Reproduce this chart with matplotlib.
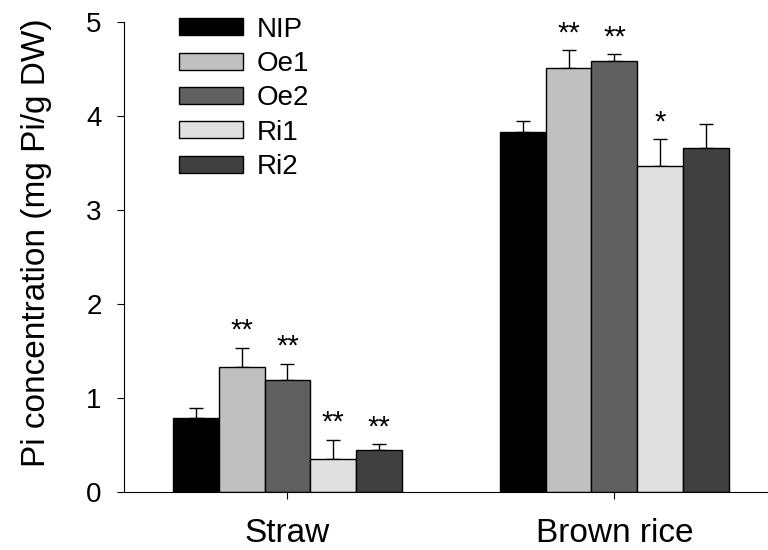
import matplotlib.pyplot as plt
import numpy as np

plt.rcParams['font.family'] = ['Liberation Sans', 'DejaVu Sans']

groups = ['Straw', 'Brown rice']
lines = ['NIP', 'Oe1', 'Oe2', 'Ri1', 'Ri2']
colors = ['#000000', '#c0c0c0', '#606060', '#e0e0e0', '#404040']

# mean values per line, [straw, brown rice]
means = {
    'NIP': [0.78, 3.83],
    'Oe1': [1.33, 4.51],
    'Oe2': [1.19, 4.58],
    'Ri1': [0.35, 3.47],
    'Ri2': [0.44, 3.66],
}
errs = {
    'NIP': [0.11, 0.12],
    'Oe1': [0.20, 0.19],
    'Oe2': [0.17, 0.08],
    'Ri1': [0.20, 0.28],
    'Ri2': [0.065, 0.25],
}
stars = {
    'NIP': ['', ''],
    'Oe1': ['**', '**'],
    'Oe2': ['**', '**'],
    'Ri1': ['**', '*'],
    'Ri2': ['**', ''],
}

W, H = 768, 550
fig = plt.figure(figsize=(W / 100, H / 100), dpi=100)
ax = fig.add_axes([124 / W, (H - 491.5) / H, (768 - 124) / W, (491.5 - 22) / H])

x = np.arange(len(groups))
width = 0.14
for i, name in enumerate(lines):
    pos = x + (i - 2) * width
    ax.bar(pos, means[name], width, color=colors[i], edgecolor='black',
           linewidth=1, label=name, zorder=2)
    # upper half error bars only
    ax.errorbar(pos, means[name], yerr=[np.zeros(len(groups)), errs[name]],
                fmt='none', ecolor='black', elinewidth=1, capsize=5,
                capthick=1, zorder=1)
    for j, s in enumerate(stars[name]):
        if s:
            ax.text(pos[j], means[name][j] + errs[name][j] + 0.03, s,
                    ha='center', va='bottom', fontsize=21)

ax.set_xlim(-0.5, 1.47)
ax.set_ylim(0, 5)
ax.set_xticks(x)
ax.set_xticklabels(groups, fontsize=24)
ax.set_yticks(range(6))
ax.tick_params(axis='y', labelsize=20, direction='out', length=5, pad=11)
ax.tick_params(axis='x', direction='out', length=5, pad=14)
ax.set_ylabel('Pi concentration (mg Pi/g DW)', fontsize=24)
ax.yaxis.set_label_coords(-0.112, 0.53)
for side in ['top', 'right']:
    ax.spines[side].set_visible(False)

ax.legend(loc='upper left', bbox_to_anchor=(0.068, 1.035), frameon=False,
          fontsize=20, handlelength=2.3, handleheight=0.55, labelspacing=0.3,
          handletextpad=0.5, borderaxespad=0)

fig.savefig('out.png', dpi=100)
